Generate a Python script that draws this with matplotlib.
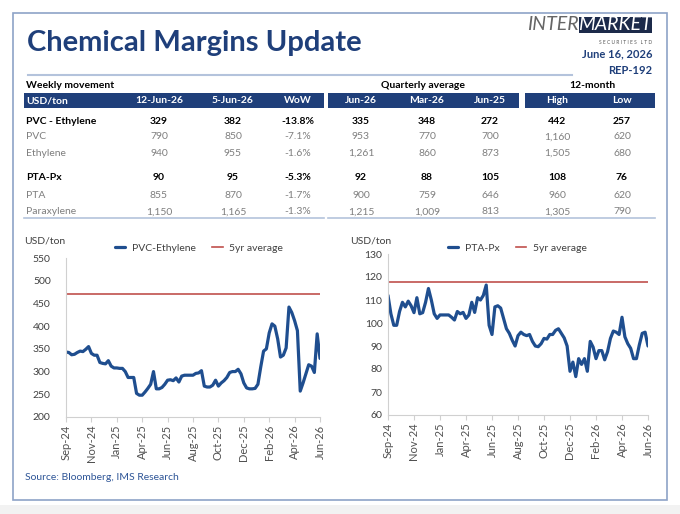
import numpy as np
import matplotlib
matplotlib.use('Agg')
import matplotlib.pyplot as plt
from matplotlib.patches import Rectangle

plt.rcParams['font.family'] = ['Lato', 'DejaVu Sans']

# ---- data ----
tick_labels = ['Sep-24', 'Nov-24', 'Jan-25', 'Apr-25', 'Jun-25', 'Aug-25',
               'Oct-25', 'Dec-25', 'Feb-26', 'Apr-26', 'Jun-26']

# weekly spreads, Sep-24 .. Jun-26 (USD/ton)
pvc_ethylene = [343, 342, 337, 338, 342, 345, 344, 349, 355, 340,
                336, 336, 320, 318, 317, 324, 312, 308, 308, 307,
                307, 300, 287, 287, 287, 252, 248, 248, 255, 263,
                272, 300, 262, 262, 265, 272, 281, 282, 280, 286,
                277, 290, 292, 292, 292, 292, 296, 297, 302, 268,
                266, 266, 270, 281, 268, 275, 280, 287, 298, 300,
                300, 305, 295, 275, 264, 262, 262, 263, 272, 310,
                345, 350, 385, 405, 400, 372, 332, 336, 352, 442,
                430, 412, 390, 257, 275, 295, 315, 312, 298, 383,
                329]
pta_px = [112, 104, 99, 99, 105, 109, 107, 109.5, 107.5, 104.5,
          111, 104, 104.5, 109, 115, 110, 104, 102, 103.5, 103.5,
          103.5, 103.5, 102.5, 101.3, 105, 104, 104.6, 102, 103.5, 109,
          104.6, 111, 110, 112, 116.5, 99, 95, 107, 107.5, 106.5,
          102, 97.5, 95.5, 92.5, 90, 94.5, 96, 95, 94.5, 95,
          92, 90, 89.7, 91, 93.3, 93, 95, 95, 96.8, 97.5,
          95.5, 93.5, 90, 79, 83, 76.7, 84.5, 82, 84.5, 79,
          92, 89.5, 84.5, 88, 88, 84, 87.5, 93.3, 96.5, 96,
          95, 102.5, 94, 91, 89, 84.5, 84.5, 90.5, 95.5, 96,
          90]
pvc_5yr_avg = 470
pta_5yr_avg = 118

# table
col_headers = ['12-Jun-26', '5-Jun-26', 'WoW', 'Jun-26', 'Mar-26', 'Jun-25', 'High', 'Low']
row_names = ['PVC - Ethylene', 'PVC', 'Ethylene', 'PTA-Px', 'PTA', 'Paraxylene']
row_bold = [True, False, False, True, False, False]
table_values = [
    ['329', '382', '-13.8%', '335', '348', '272', '442', '257'],
    ['790', '850', '-7.1%', '953', '770', '700', '1,160', '620'],
    ['940', '955', '-1.6%', '1,261', '860', '873', '1,505', '680'],
    ['90', '95', '-5.3%', '92', '88', '105', '108', '76'],
    ['855', '870', '-1.7%', '900', '759', '646', '960', '620'],
    ['1,150', '1,165', '-1.3%', '1,215', '1,009', '813', '1,305', '790'],
]

NAVY = '#1f3f7a'
LINE = '#1f4e8f'
RED = '#c0504d'
GREY_TXT = '#7f7f7f'
W, H = 680, 514

fig = plt.figure(figsize=(W / 100, H / 100), dpi=100)
fig.patch.set_facecolor('white')


def fx(px):
    return px / W


def fy(py):
    return 1 - py / H


def txt(x, y, s, **kw):
    fig.text(fx(x), fy(y), s, **kw)


# page frame (kept behind the axes)
fig.patches.append(Rectangle((0, 0), 1, fy(505), transform=fig.transFigure,
                             facecolor='#f2f2f2', edgecolor='none', zorder=-3))
fig.patches.append(Rectangle((fx(13), fy(500)), fx(667) - fx(13), fy(13) - fy(500),
                             transform=fig.transFigure, facecolor='white',
                             edgecolor='#8ea3c7', linewidth=1.2, zorder=-2))

# title + logo
txt(27, 43, 'Chemical Margins Update', fontsize=21, fontweight='bold', color=NAVY, va='center')
fig.lines.append(plt.Line2D([fx(28), fx(572)], [fy(75), fy(75)], transform=fig.transFigure,
                            color='#b4c3dc', linewidth=1.5))
txt(527, 25, 'INTER', fontsize=14, fontstyle='italic', color='#666666', va='center')
fig.patches.append(Rectangle((fx(579), fy(33)), fx(652) - fx(579), fy(17) - fy(33),
                             transform=fig.transFigure, facecolor='#1c2a4a', edgecolor='none'))
txt(615, 25, 'MARKET', fontsize=14, fontstyle='italic', color='white', va='center', ha='center')
txt(652, 43, 'S E C U R I T I E S   L T D', fontsize=3.5, color='#555555', va='center', ha='right')
txt(652, 54, 'June 16, 2026', fontsize=8, fontweight='bold', color=NAVY, va='center', ha='right')
txt(652, 70, 'REP-192', fontsize=8, fontweight='bold', color=NAVY, va='center', ha='right')

# table headers
txt(26, 85, 'Weekly movement', fontsize=7.5, fontweight='bold', color='black', va='center')
txt(423, 85, 'Quarterly average', fontsize=7.5, fontweight='bold', color='black', va='center', ha='center')
txt(592, 85, '12-month', fontsize=7.5, fontweight='bold', color='black', va='center', ha='center')
for x0, x1 in [(24, 324), (328, 519), (525, 655)]:
    fig.patches.append(Rectangle((fx(x0), fy(108)), fx(x1) - fx(x0), fy(93) - fy(108),
                                 transform=fig.transFigure, facecolor=NAVY, edgecolor='none'))
col_x = [159, 233, 298, 361, 427, 490, 557, 622]
txt(26, 100.5, 'USD/ton', fontsize=7.5, fontweight='bold', color='white', va='center')
for x, h in zip(col_x, col_headers):
    txt(x, 100.5, h, fontsize=7.5, fontweight='bold', color='white', va='center', ha='center')

row_y = [121, 137, 153, 178, 195, 212]
for y, name, bold, vals in zip(row_y, row_names, row_bold, table_values):
    c = 'black' if bold else GREY_TXT
    w = 'bold' if bold else 'normal'
    txt(26, y, name, fontsize=7.5, fontweight=w, color=c, va='center')
    for x, v in zip(col_x, vals):
        txt(x, y, v, fontsize=7.5, fontweight=w, color=c, va='center', ha='center')
for x0, x1 in [(24, 324), (328, 655)]:
    fig.lines.append(plt.Line2D([fx(x0), fx(x1)], [fy(218), fy(218)], transform=fig.transFigure,
                                color='#b4c3dc', linewidth=1.2))


# charts
def draw_chart(rect, series, avg, name, ylim, yticks, ylab_x, leg_x, ypad):
    ax = fig.add_axes(rect)
    xs = np.arange(len(series))
    ax.plot(xs, series, color=LINE, linewidth=2.3, label=name,
            solid_joinstyle='round', solid_capstyle='round')
    ax.axhline(avg, color=RED, linewidth=1.2, label='5yr average')
    ax.set_xlim(0, len(series) - 1)
    ax.set_ylim(*ylim)
    ax.set_yticks(yticks)
    ax.set_xticks(np.linspace(0, len(series) - 1, len(tick_labels)))
    ax.set_xticklabels(tick_labels, rotation=90)
    for s in ['top', 'right']:
        ax.spines[s].set_visible(False)
    for s in ['left', 'bottom']:
        ax.spines[s].set_color('#d0d0d0')
    ax.tick_params(axis='y', length=0, labelsize=7.5, labelcolor='#404040', pad=ypad)
    ax.tick_params(axis='x', length=3.5, color='#d0d0d0', labelsize=8, labelcolor='#505050', pad=2)
    ax.patch.set_alpha(0)
    leg = ax.legend(loc='lower left', bbox_to_anchor=(fx(leg_x), fy(253)),
                    bbox_transform=fig.transFigure, ncol=2, frameon=False,
                    fontsize=7.5, handlelength=1.0, handletextpad=0.6, columnspacing=1.6,
                    borderaxespad=0, borderpad=0)
    for t in leg.get_texts():
        t.set_color('#404040')
    txt(ylab_x, 241, 'USD/ton', fontsize=7.5, color='#404040', va='center')
    return ax


draw_chart([fx(66), fy(417), fx(320) - fx(66), fy(258) - fy(417)], pvc_ethylene, pvc_5yr_avg,
           'PVC-Ethylene', (200, 550), np.arange(200, 551, 50), 24, 115, 11)
draw_chart([fx(388), fy(415), fx(648) - fx(388), fy(254) - fy(415)], pta_px, pta_5yr_avg,
           'PTA-Px', (60, 130), np.arange(60, 131, 10), 350, 448, 4)

txt(25, 478, 'Source: Bloomberg, IMS Research', fontsize=7.5, color='#2e5597', va='center')

fig.savefig('out.png', dpi=100, facecolor=fig.get_facecolor())
